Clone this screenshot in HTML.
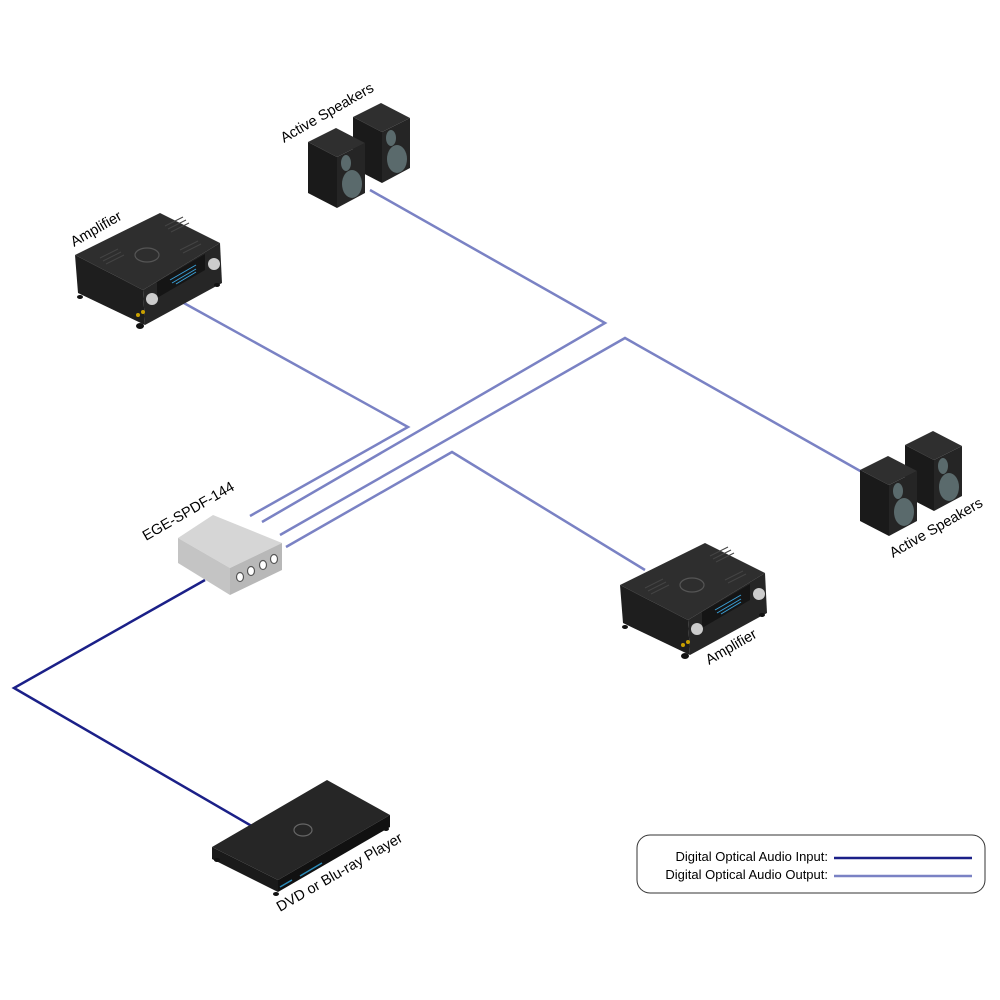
<!DOCTYPE html>
<html><head><meta charset="utf-8"><style>
html,body{margin:0;padding:0;background:#fff}
svg{display:block}
text{font-family:"Liberation Sans",sans-serif}
</style></head><body>
<svg width="1000" height="1000" viewBox="0 0 1000 1000" xmlns="http://www.w3.org/2000/svg">
<defs>
<g id="amp">
  <polygon points="75,255 160,213 220,243 143,290" fill="#2e2e2e"/>
  <polygon points="75,255 143,290 145,325 78,293" fill="#1e1e1e"/>
  <polygon points="143,290 220,243 222,283 145,325" fill="#262626"/>
  <ellipse cx="147" cy="255" rx="12" ry="7" fill="none" stroke="#555" stroke-width="1.2"/>
  <g stroke="#444" stroke-width="1">
    <line x1="100" y1="258" x2="118" y2="249"/><line x1="103" y1="261" x2="121" y2="252"/><line x1="106" y1="264" x2="124" y2="255"/>
    <line x1="165" y1="226" x2="183" y2="217"/><line x1="168" y1="229" x2="186" y2="220"/><line x1="171" y1="232" x2="189" y2="223"/>
    <line x1="180" y1="250" x2="198" y2="241"/><line x1="183" y1="253" x2="201" y2="244"/>
  </g>
  <polygon points="157,282 205,254 205,270 157,298" fill="#151515"/>
  <g stroke="#3aa0d8" stroke-width="1"><line x1="170" y1="280" x2="196" y2="265"/><line x1="172" y1="283" x2="196" y2="269"/><line x1="176" y1="284" x2="196" y2="272"/></g>
  <circle cx="152" cy="299" r="6" fill="#ccc"/>
  <circle cx="214" cy="264" r="6" fill="#ccc"/>
  <circle cx="138" cy="315" r="2" fill="#c9a000"/><circle cx="143" cy="312" r="2" fill="#c9a000"/>
  <ellipse cx="80" cy="297" rx="3" ry="2" fill="#111"/><ellipse cx="140" cy="326" rx="4" ry="3" fill="#111"/><ellipse cx="217" cy="285" rx="3" ry="2" fill="#111"/>
</g>
<g id="spk1">
  <polygon points="308,142 336,128 365,143 337,157" fill="#2f2f2f"/>
  <polygon points="308,142 337,157 337,208 308,193" fill="#1a1a1a"/>
  <polygon points="337,157 365,143 365,193 337,208" fill="#252525"/>
  <ellipse cx="346" cy="163" rx="5" ry="8" fill="#5a6a6c"/>
  <ellipse cx="352" cy="184" rx="10" ry="14" fill="#5a6a6c"/>
</g>
<g id="spks">
  <use href="#spk1" transform="translate(45,-25)"/>
  <use href="#spk1"/>
</g>
</defs>

<g fill="none" stroke="#7a82c4" stroke-width="2.5">
  <polyline points="182,302 408,427 250,516"/>
  <polyline points="370,190 605,323 262,522"/>
  <polyline points="862,472 625,338 280,535"/>
  <polyline points="645,570 452,452 286,547"/>
</g>
<polyline points="205,580 14,688 262,832" fill="none" stroke="#1b2088" stroke-width="2.5"/>

<use href="#amp"/>
<use href="#amp" transform="translate(545,330)"/>
<use href="#spks"/>
<use href="#spks" transform="translate(552,328)"/>

<polygon points="178,538 213,515 282,543 230,568" fill="#d6d6d6"/>
<polygon points="178,538 230,568 230,595 178,563" fill="#c4c4c4"/>
<polygon points="230,568 282,543 282,570 230,595" fill="#b8b8b8"/>
<g fill="#fff" stroke="#555" stroke-width="1.2">
  <ellipse cx="240" cy="577" rx="3.5" ry="4.5"/><ellipse cx="251" cy="571" rx="3.5" ry="4.5"/>
  <ellipse cx="263" cy="565" rx="3.5" ry="4.5"/><ellipse cx="274" cy="559" rx="3.5" ry="4.5"/>
</g>

<polygon points="212,847 327,780 390,815 278,880" fill="#262626"/>
<polygon points="212,847 278,880 278,892 212,859" fill="#1a1a1a"/>
<polygon points="278,880 390,815 390,827 278,892" fill="#111"/>
<ellipse cx="303" cy="830" rx="9" ry="6" fill="none" stroke="#666" stroke-width="1.2"/>
<g stroke="#2a8ab8" stroke-width="1.5"><line x1="280" y1="887" x2="292" y2="880"/><line x1="300" y1="876" x2="322" y2="863"/></g>
<ellipse cx="217" cy="860" rx="3" ry="2" fill="#111"/><ellipse cx="276" cy="894" rx="3" ry="2" fill="#111"/><ellipse cx="386" cy="829" rx="3" ry="2" fill="#111"/>

<g font-size="14.5" fill="#000">
  <text transform="translate(74,247) rotate(-30)">Amplifier</text>
  <text transform="translate(284,143) rotate(-30)">Active Speakers</text>
  <text transform="translate(146,541) rotate(-30)">EGE-SPDF-144</text>
  <text transform="translate(893,558) rotate(-30)">Active Speakers</text>
  <text transform="translate(709,665) rotate(-30)">Amplifier</text>
  <text transform="translate(280,912) rotate(-30)">DVD or Blu-ray Player</text>
</g>

<rect x="637" y="835" width="348" height="58" rx="13" fill="#fff" stroke="#333" stroke-width="1"/>
<text x="828" y="861" font-size="13" text-anchor="end">Digital Optical Audio Input:</text>
<text x="828" y="879" font-size="13" text-anchor="end">Digital Optical Audio Output:</text>
<line x1="834" y1="858" x2="972" y2="858" stroke="#1b2088" stroke-width="2.5"/>
<line x1="834" y1="876" x2="972" y2="876" stroke="#7a82c4" stroke-width="2.5"/>
</svg>
</body></html>
